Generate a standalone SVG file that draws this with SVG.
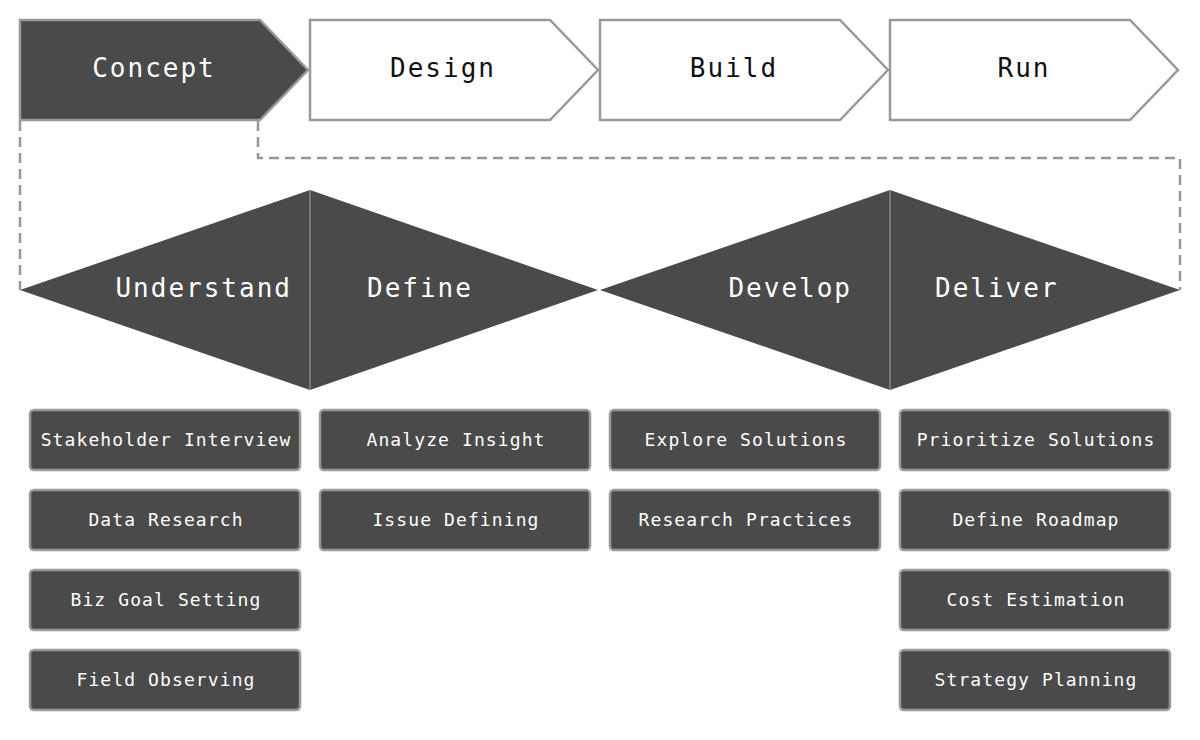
<svg xmlns="http://www.w3.org/2000/svg" width="1200" height="740" viewBox="0 0 1200 740">
<style>
.mono{font-family:"DejaVu Sans Mono","Liberation Mono",monospace}
.chev{stroke:#999;stroke-width:2.5;stroke-linejoin:miter}
.chev-on{fill:#4a4a4a}
.chev-off{fill:#fff}
.ttl{font-size:26px;letter-spacing:2px;text-anchor:middle}
.tri{fill:#4a4a4a}
.div{stroke:#8a8a8a;stroke-width:1.5}
.dlabel{font-size:26px;letter-spacing:2px;fill:#fff}
.box{fill:#4a4a4a;stroke:#999;stroke-width:2.5}
.btxt{font-size:18px;letter-spacing:1.1px;fill:#fff;text-anchor:middle}
.dash{fill:none;stroke:#999;stroke-width:2.5;stroke-dasharray:10 6}
</style>
<rect width="1200" height="740" fill="#fff"/>
<g id="connectors">
<path class="dash" d="M20,121 V290"/>
<path class="dash" d="M258,121 V158 H1180 V290"/>
</g>
<g id="concept"><polygon class="chev chev-on" points="20,20 260,20 308,70 260,120 20,120"/><text class="mono ttl" x="154" y="77" fill="#fff">Concept</text></g>
<g id="design"><polygon class="chev chev-off" points="310,20 550,20 598,70 550,120 310,120"/><text class="mono ttl" x="443" y="77" fill="#111">Design</text></g>
<g id="build"><polygon class="chev chev-off" points="600,20 840,20 888,70 840,120 600,120"/><text class="mono ttl" x="734" y="77" fill="#111">Build</text></g>
<g id="run"><polygon class="chev chev-off" points="890,20 1130,20 1178,70 1130,120 890,120"/><text class="mono ttl" x="1024" y="77" fill="#111">Run</text></g>
<g id="understand"><polygon class="tri" points="20,290 310,190 310,390"/><text class="mono dlabel" x="292" y="297" text-anchor="end">Understand</text></g>
<g id="define"><polygon class="tri" points="310,190 598,290 310,390"/><text class="mono dlabel" x="367" y="297">Define</text></g>
<line class="div" x1="310" y1="190" x2="310" y2="390"/>
<g id="develop"><polygon class="tri" points="600,290 890,190 890,390"/><text class="mono dlabel" x="852" y="297" text-anchor="end">Develop</text></g>
<g id="deliver"><polygon class="tri" points="890,190 1180,290 890,390"/><text class="mono dlabel" x="935" y="297">Deliver</text></g>
<line class="div" x1="890" y1="190" x2="890" y2="390"/>
<g id="stakeholder-interview"><rect class="box" x="30" y="410" width="270" height="60" rx="4"/><text class="mono btxt" x="166" y="446">Stakeholder Interview</text></g>
<g id="data-research"><rect class="box" x="30" y="490" width="270" height="60" rx="4"/><text class="mono btxt" x="166" y="526">Data Research</text></g>
<g id="biz-goal-setting"><rect class="box" x="30" y="570" width="270" height="60" rx="4"/><text class="mono btxt" x="166" y="606">Biz Goal Setting</text></g>
<g id="field-observing"><rect class="box" x="30" y="650" width="270" height="60" rx="4"/><text class="mono btxt" x="166" y="686">Field Observing</text></g>
<g id="analyze-insight"><rect class="box" x="320" y="410" width="270" height="60" rx="4"/><text class="mono btxt" x="456" y="446">Analyze Insight</text></g>
<g id="issue-defining"><rect class="box" x="320" y="490" width="270" height="60" rx="4"/><text class="mono btxt" x="456" y="526">Issue Defining</text></g>
<g id="explore-solutions"><rect class="box" x="610" y="410" width="270" height="60" rx="4"/><text class="mono btxt" x="746" y="446">Explore Solutions</text></g>
<g id="research-practices"><rect class="box" x="610" y="490" width="270" height="60" rx="4"/><text class="mono btxt" x="746" y="526">Research Practices</text></g>
<g id="prioritize-solutions"><rect class="box" x="900" y="410" width="270" height="60" rx="4"/><text class="mono btxt" x="1036" y="446">Prioritize Solutions</text></g>
<g id="define-roadmap"><rect class="box" x="900" y="490" width="270" height="60" rx="4"/><text class="mono btxt" x="1036" y="526">Define Roadmap</text></g>
<g id="cost-estimation"><rect class="box" x="900" y="570" width="270" height="60" rx="4"/><text class="mono btxt" x="1036" y="606">Cost Estimation</text></g>
<g id="strategy-planning"><rect class="box" x="900" y="650" width="270" height="60" rx="4"/><text class="mono btxt" x="1036" y="686">Strategy Planning</text></g>
</svg>
